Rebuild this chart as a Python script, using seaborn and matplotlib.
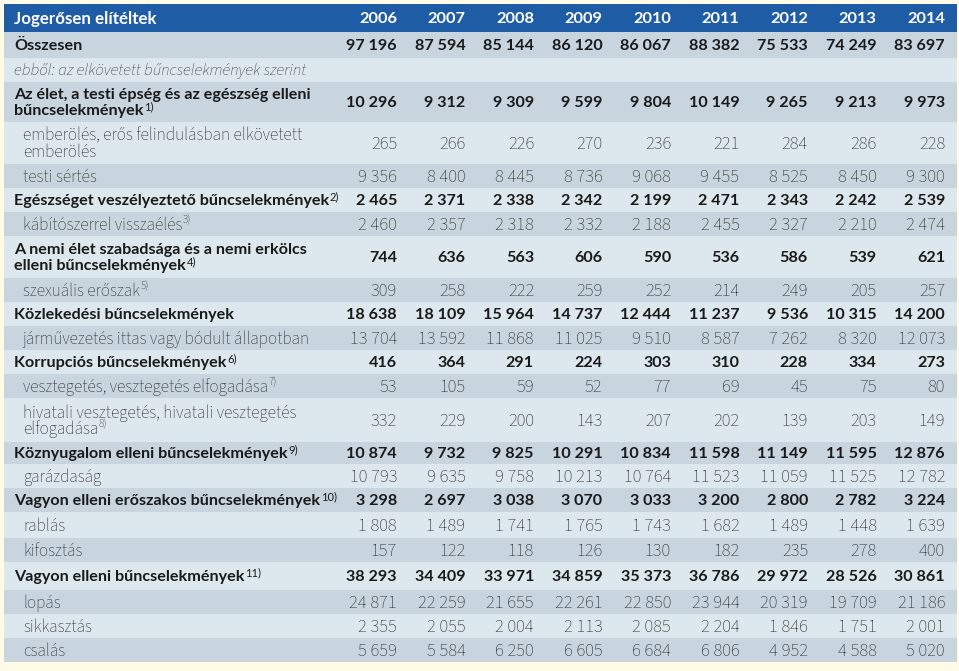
import matplotlib
matplotlib.use("Agg")
import matplotlib.pyplot as plt
import seaborn as sns

# Data
years = [2006, 2007, 2008, 2009, 2010, 2011, 2012, 2013, 2014]
header = "Jogerősen elítéltek"

labels = [
    ["Összesen"],
    ["ebből: az elkövetett bűncselekmények szerint"],
    ["Az élet, a testi épség és az egészség elleni", "bűncselekmények"],
    ["emberölés, erős felindulásban elkövetett", "emberölés"],
    ["testi sértés"],
    ["Egészséget veszélyeztető bűncselekmények"],
    ["kábítószerrel visszaélés"],
    ["A nemi élet szabadsága és a nemi erkölcs", "elleni bűncselekmények"],
    ["szexuális erőszak"],
    ["Közlekedési bűncselekmények"],
    ["járművezetés ittas vagy bódult állapotban"],
    ["Korrupciós bűncselekmények"],
    ["vesztegetés, vesztegetés elfogadása"],
    ["hivatali vesztegetés, hivatali vesztegetés", "elfogadása"],
    ["Köznyugalom elleni bűncselekmények"],
    ["garázdaság"],
    ["Vagyon elleni erőszakos bűncselekmények"],
    ["rablás"],
    ["kifosztás"],
    ["Vagyon elleni bűncselekmények"],
    ["lopás"],
    ["sikkasztás"],
    ["csalás"],
]
notes = ["", "", "1)", "", "", "2)", "3)", "4)", "5)", "", "", "6)", "7)", "8)",
         "9)", "", "10)", "", "", "11)", "", "", ""]
kinds = ["bold", "italic", "bold", "sub", "sub", "bold", "sub", "bold", "sub", "bold", "sub",
         "bold", "sub", "sub", "bold", "sub", "bold", "sub", "sub", "bold", "sub", "sub", "sub"]

values = [
    [97196, 87594, 85144, 86120, 86067, 88382, 75533, 74249, 83697],
    None,
    [10296, 9312, 9309, 9599, 9804, 10149, 9265, 9213, 9973],
    [265, 266, 226, 270, 236, 221, 284, 286, 228],
    [9356, 8400, 8445, 8736, 9068, 9455, 8525, 8450, 9300],
    [2465, 2371, 2338, 2342, 2199, 2471, 2343, 2242, 2539],
    [2460, 2357, 2318, 2332, 2188, 2455, 2327, 2210, 2474],
    [744, 636, 563, 606, 590, 536, 586, 539, 621],
    [309, 258, 222, 259, 252, 214, 249, 205, 257],
    [18638, 18109, 15964, 14737, 12444, 11237, 9536, 10315, 14200],
    [13704, 13592, 11868, 11025, 9510, 8587, 7262, 8320, 12073],
    [416, 364, 291, 224, 303, 310, 228, 334, 273],
    [53, 105, 59, 52, 77, 69, 45, 75, 80],
    [332, 229, 200, 143, 207, 202, 139, 203, 149],
    [10874, 9732, 9825, 10291, 10834, 11598, 11149, 11595, 12876],
    [10793, 9635, 9758, 10213, 10764, 11523, 11059, 11525, 12782],
    [3298, 2697, 3038, 3070, 3033, 3200, 2800, 2782, 3224],
    [1808, 1489, 1741, 1765, 1743, 1682, 1489, 1448, 1639],
    [157, 122, 118, 126, 130, 182, 235, 278, 400],
    [38293, 34409, 33971, 34859, 35373, 36786, 29972, 28526, 30861],
    [24871, 22259, 21655, 22261, 22850, 23944, 20319, 19709, 21186],
    [2355, 2055, 2004, 2113, 2085, 2204, 1846, 1751, 2001],
    [5659, 5584, 6250, 6605, 6684, 6806, 4952, 4588, 5020],
]

# Layout (pixels)
W, H = 959, 671
left, right, top = 4, 957, 4
header_h = 28
row_h = [26, 24, 40, 42, 24, 24, 24, 42, 24, 24, 24, 24, 24, 44, 22, 24, 24, 26, 24, 28, 24, 24, 24]
col_right0, col_step = 397, 68.5

blue = "#1f5ca6"
dark_row = "#c8d5df"
light_row = "#dde7ee"
cream = "#fffbe6"

BOLD = ["Lato", "DejaVu Sans"]
LIGHT = ["Source Sans 3", "Lato", "DejaVu Sans"]

sns.set_theme(style="white")

fig = plt.figure(figsize=(W / 100, H / 100), dpi=100, facecolor=cream)
ax = fig.add_axes([0, 0, 1, 1])
ax.set_xlim(0, W)
ax.set_ylim(H, 0)
ax.axis("off")


def fmt(v):
    return f"{v:,}".replace(",", " ")


# header band
ax.barh(top + header_h / 2, right - left, height=header_h, left=left, color=blue, linewidth=0)
ax.text(14, top + header_h / 2 + 1, header, color="white", family=BOLD, weight="bold",
        fontsize=12.2, va="center", ha="left")
for j, yr in enumerate(years):
    ax.text(col_right0 + j * col_step, top + header_h / 2 + 1, str(yr), color="white",
            family=BOLD, weight="bold", fontsize=11.8, va="center", ha="right")

y0 = top + header_h
for i, (lab, note, kind, vals) in enumerate(zip(labels, notes, kinds, values)):
    h = row_h[i]
    yc = y0 + h / 2
    ax.barh(yc, right - left, height=h, left=left,
            color=dark_row if i % 2 == 0 else light_row, linewidth=0)

    if kind == "bold":
        kw = dict(family=BOLD, weight="bold", color="#1a1a1a", fontsize=11.6)
        num_size = 11.6
        x_lab = 14
        sup_y = 0.8
    elif kind == "italic":
        kw = dict(family=LIGHT, style="italic", color="#3c3c3c", fontsize=12.0)
        num_size = 12.0
        x_lab = 14
        sup_y = 0.72
    else:
        kw = dict(family=LIGHT, color="#333333", fontsize=12.4)
        num_size = 13.4
        x_lab = 23
        sup_y = 0.72

    n = len(lab)
    line_gap = 16
    t = None
    for k, line in enumerate(lab):
        ly = yc + (k - (n - 1) / 2) * line_gap + 1
        t = ax.text(x_lab, ly, line, va="center", ha="left", **kw)
    if note:
        ax.annotate(note, xy=(1, sup_y), xycoords=t, xytext=(0.5, 0), textcoords="offset points",
                    va="center", ha="left", fontsize=8, family=kw["family"],
                    color=kw["color"])

    if vals is not None:
        for j, v in enumerate(vals):
            ax.text(col_right0 + j * col_step, yc + 1, fmt(v), va="center", ha="right",
                    family=kw["family"], weight=kw.get("weight", "normal"),
                    color=kw["color"], fontsize=num_size)
    y0 += h

fig.savefig("out.png", dpi=100, facecolor=cream)
